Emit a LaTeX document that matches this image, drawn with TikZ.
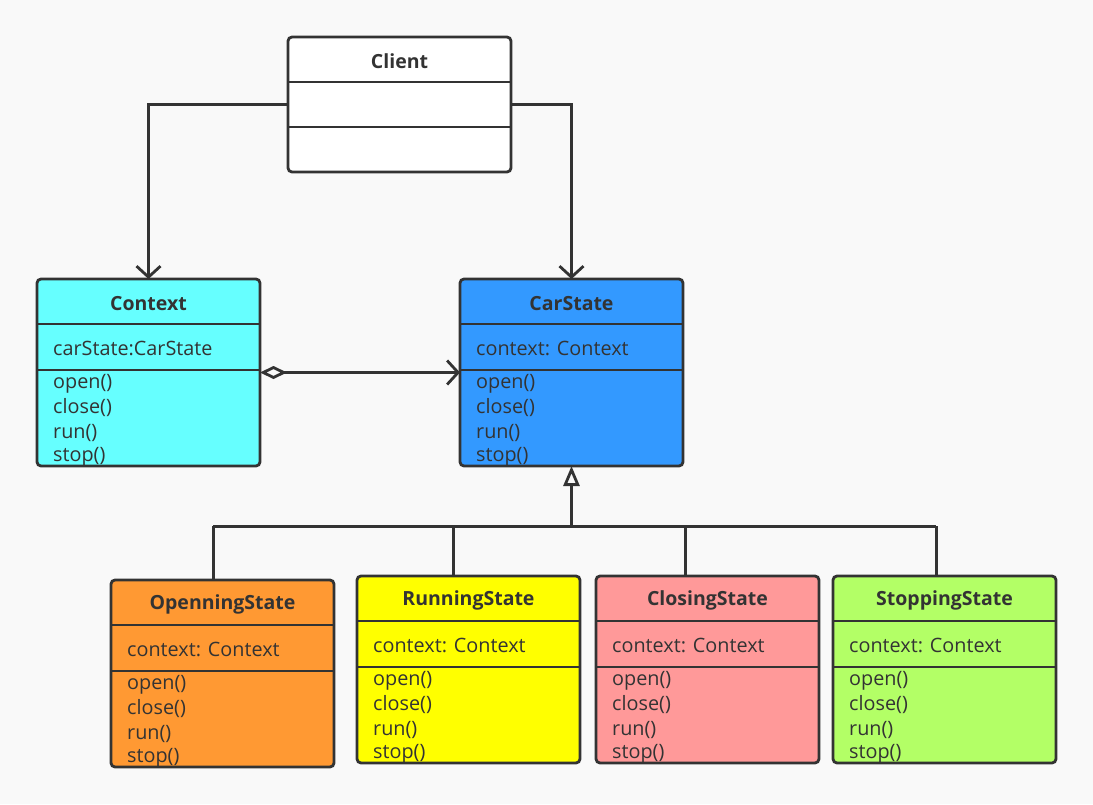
\documentclass[tikz,border=0pt]{standalone}
\usepackage{fontspec}
\setmainfont{Open Sans}
\usetikzlibrary{arrows.meta}
\definecolor{bg}{HTML}{F9F9F9}
\definecolor{ink}{HTML}{333333}
\definecolor{cctx}{HTML}{66FFFF}
\definecolor{ccar}{HTML}{3399FF}
\definecolor{copen}{HTML}{FF9933}
\definecolor{crun}{HTML}{FFFF00}
\definecolor{cclose}{HTML}{FF9999}
\definecolor{cstop}{HTML}{B3FF66}
\tikzset{
  box/.style={draw=ink, line width=2.8pt, rounded corners=4pt, minimum width=223pt, inner sep=0pt, outer sep=0pt},
  divider/.style={draw=ink, line width=2.8pt},
  titletext/.style={font=\fontsize{19.5}{23}\selectfont\bfseries, text=ink, inner sep=0pt},
  membertext/.style={font=\fontsize{19.8}{23}\selectfont, text=ink, inner sep=0pt, anchor=west},
  conn/.style={draw=ink, line width=3pt},
}
\newcommand\classbox[6]{% name, x, y, fill, title, attr
  \node[box, fill=#4, minimum height=187pt, anchor=north west] (#1) at (#2,#3) {};
  \draw[divider] ([yshift=-45pt]#1.north west) -- ([yshift=-45pt]#1.north east);
  \draw[divider] ([yshift=-91pt]#1.north west) -- ([yshift=-91pt]#1.north east);
  \node[titletext] (#1-t) at ([yshift=-24.5pt]#1.north) {#5};
  \node[membertext] (#1-a) at ([xshift=16pt,yshift=-69.5pt]#1.north west) {#6};
  \node[membertext] (#1-m1) at ([xshift=16pt,yshift=-105pt]#1.north west) {open()};
  \node[membertext] (#1-m2) at ([xshift=16pt,yshift=-129pt]#1.north west) {close()};
  \node[membertext] (#1-m3) at ([xshift=16pt,yshift=-153.5pt]#1.north west) {run()};
  \node[membertext] (#1-m4) at ([xshift=16pt,yshift=-177.5pt]#1.north west) {stop()};
}
\begin{document}
\begin{tikzpicture}[x=1pt,y=-1pt]
\fill[bg] (0,0) rectangle (1093,804);
\useasboundingbox (0,0) rectangle (1093,804);

% Client
\node[box, fill=white, minimum height=135pt, anchor=north west] (Client) at (288,37) {};
\draw[divider] ([yshift=-45pt]Client.north west) -- ([yshift=-45pt]Client.north east);
\draw[divider] ([yshift=-90pt]Client.north west) -- ([yshift=-90pt]Client.north east);
\node[titletext] (Client-t) at ([yshift=-24.5pt]Client.north) {Client};

\classbox{Context}{37}{279}{cctx}{Context}{carState:CarState}
\classbox{CarState}{460}{279}{ccar}{CarState}{context: Context}
\classbox{Openning}{111}{580}{copen}{OpenningState}{context: Context}
\classbox{Running}{357}{576}{crun}{RunningState}{context: Context}
\classbox{Closing}{596}{576}{cclose}{ClosingState}{context: Context}
\classbox{Stopping}{833}{576}{cstop}{StoppingState}{context: Context}

% associations from Client
\draw[conn, -{Straight Barb[length=11pt,width=24pt,line width=2.8pt]}] (Client.west) -| (Context.north);
\draw[conn, -{Straight Barb[length=11pt,width=24pt,line width=2.8pt]}] (Client.east) -| (CarState.north);

% aggregation
\draw[conn, {Diamond[open,fill=bg,length=27pt,width=13pt,line width=2.8pt]}-{Straight Barb[length=11pt,width=24pt,line width=2.8pt]}] (Context.east) -- (CarState.west);

% generalization
\coordinate (busL) at (213,526);
\coordinate (busR) at (936,526);
\coordinate (busC) at (571.5,526);
\coordinate (busR1) at (453,526);
\coordinate (busR2) at (685,526);
\draw[conn] (busL) -- (busR);
\draw[conn, -{Triangle[open,fill=bg,length=20pt,width=16pt,line width=2.8pt]}] (busC) -- (CarState.south);
\draw[conn] (busL) -- (busL |- Openning.north);
\draw[conn] (busR1) -- (busR1 |- Running.north);
\draw[conn] (busR2) -- (busR2 |- Closing.north);
\draw[conn] (busR) -- (busR |- Stopping.north);
\end{tikzpicture}
\end{document}
